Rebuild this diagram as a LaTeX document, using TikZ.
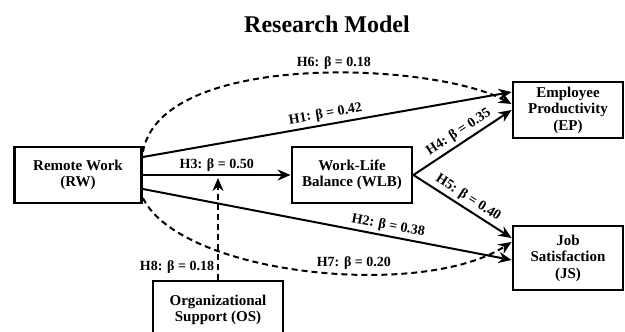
\documentclass[tikz,border=0pt]{standalone}
\usepackage{fontspec}
\setmainfont{Liberation Serif}
\usetikzlibrary{arrows.meta}
\begin{document}
\begin{tikzpicture}[
    x=1pt, y=-1pt,
    box/.style={draw, line width=2.8pt, align=center, inner sep=0pt,
      font=\bfseries\fontsize{15}{16.5}\selectfont},
    link/.style={line width=2pt, -{Stealth[length=13pt,width=11pt]}},
    dlink/.style={link, dash pattern=on 6pt off 4pt},
    hyp/.style={font=\bfseries\fontsize{14}{15}\selectfont, inner sep=3pt}
  ]
  \clip (0,0) rectangle (625,332);
  \node[font=\bfseries\fontsize{24}{28}\selectfont, anchor=base] (title) at (327,32) {Research Model};
  \node[box, minimum width=127pt, minimum height=56pt] (rw) at (78,175) {Remote Work\\(RW)};
  \node[box, minimum width=120pt, minimum height=56pt] (wlb) at (352,175) {Work-Life\\Balance (WLB)};
  \node[box, minimum width=110pt, minimum height=56pt] (ep) at (568,110) {Employee\\Productivity\\(EP)};
  \node[box, minimum width=110pt, minimum height=64pt] (js) at (568,258) {Job\\Satisfaction\\(JS)};
  \node[box, minimum width=130pt, minimum height=58pt] (os) at (218,310) {Organizational\\Support (OS)};
  % direct paths
  \draw[link] (rw) -- node[hyp, above] {H3: β = 0.50} (wlb);
  \draw[link] ([yshift=18pt]rw.east) -- node[hyp, above, sloped] {H1: β = 0.42} ([yshift=18pt]ep.west);
  \draw[link] ([yshift=-14pt]rw.east) -- node[hyp, above, sloped, pos=0.66] {H2: β = 0.38} ([yshift=-2pt]js.west);
  \draw[link] (wlb.east) -- node[hyp, above, sloped, pos=0.52] {H4: β = 0.35} (ep.west);
  \draw[link] (wlb.east) -- node[hyp, above, sloped, pos=0.5] {H5: β = 0.40} ([yshift=20pt]js.west);
  % indirect paths
  \draw[dlink] ([yshift=23pt]rw.east) .. controls +(18,-102) and +(-78,-42) .. node[hyp, above, pos=0.56] {H6: β = 0.18} ([yshift=6pt]ep.west);
  \draw[dlink] ([yshift=-23pt]rw.east) .. controls +(38,77) and +(-90,58) .. node[hyp, above, pos=0.6] {H7: β = 0.20} ([yshift=16pt]js.west);
  % moderation
  \draw[dlink, shorten >=3pt] (os.north) -- node[hyp, left, pos=0.12] {H8: β = 0.18} (os.north |- rw.east);
\end{tikzpicture}
\end{document}
